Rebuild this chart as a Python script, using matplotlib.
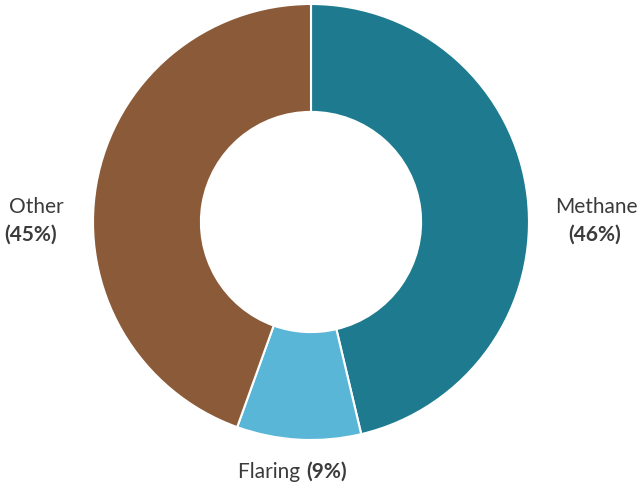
import matplotlib
matplotlib.use("Agg")
import matplotlib.pyplot as plt

labels = ["Methane", "Flaring", "Other"]
shares = [46.3, 9.2, 44.5]
pct_labels = ["(46%)", "(9%)", "(45%)"]
colors = ["#1e7b8f", "#5ab6d6", "#8b5a38"]

plt.rcParams["font.family"] = ["Lato", "DejaVu Sans"]
text_color = "#3b3b3b"

fig = plt.figure(figsize=(6.37, 4.87), dpi=100)
# pie area in pixels: center (311, 222), radius 218
ax = fig.add_axes([93 / 637, 47 / 487, 436 / 637, 436 / 487])
ax.pie(shares, colors=colors, startangle=90, counterclock=False, radius=1,
       wedgeprops=dict(width=0.495, edgecolor="white", linewidth=1.5))
ax.set_xlim(-1, 1)
ax.set_ylim(-1, 1)
ax.set_aspect("equal")
ax.axis("off")

fs = 15
kw = dict(fontsize=fs, color=text_color, clip_on=False, va="baseline")
# Methane (right)
ax.text(1.307, 0.041, labels[0], ha="center", **kw)
ax.text(1.300, -0.087, pct_labels[0], ha="center", fontweight="bold", **kw)
# Other (left)
ax.text(-1.261, 0.041, labels[2], ha="center", **kw)
ax.text(-1.285, -0.087, pct_labels[2], ha="center", fontweight="bold", **kw)
# Flaring (bottom), one line
t = ax.text(-0.023, -1.174, labels[1] + " ", ha="right", **kw)
ax.annotate(pct_labels[1], xy=(1, 0), xycoords=t, va="bottom", ha="left",
            fontsize=fs, fontweight="bold", color=text_color, annotation_clip=False)

fig.savefig("out.png", dpi=100)
